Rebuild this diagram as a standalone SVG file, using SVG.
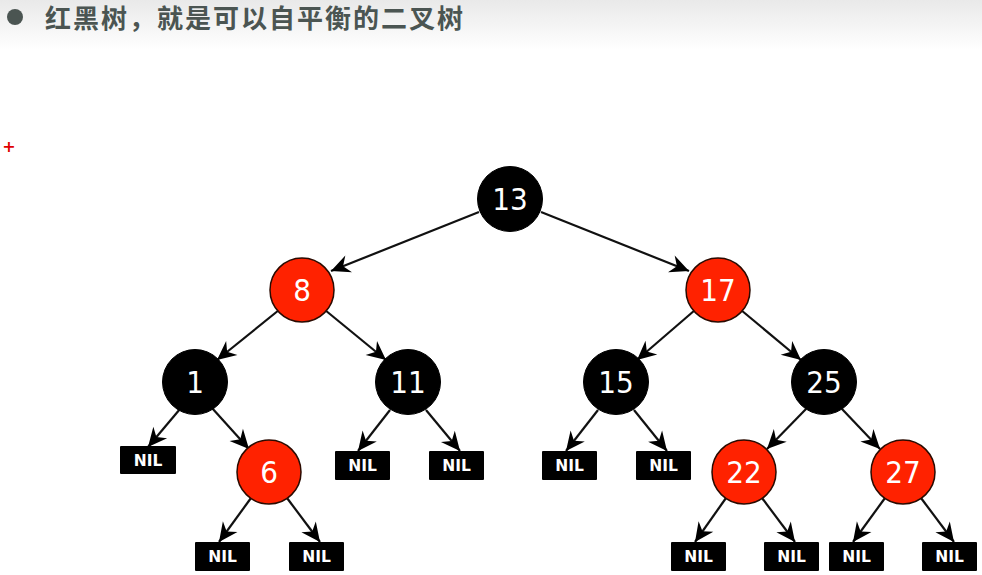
<svg xmlns="http://www.w3.org/2000/svg" width="982" height="575" viewBox="0 0 982 575">
<defs>
<linearGradient id="hdr" x1="0" y1="0" x2="0" y2="1">
<stop offset="0" stop-color="#e9e9e9"/>
<stop offset="1" stop-color="#ffffff"/>
</linearGradient>
<marker id="arr" markerUnits="userSpaceOnUse" markerWidth="22" markerHeight="20" refX="19" refY="9" orient="auto" overflow="visible">
<path d="M19,9 L0,0 L6,9 L0,18 Z" fill="#000"/>
</marker>
<style>
.edge{stroke:#111;stroke-width:2.2;fill:none;marker-end:url(#arr)}
.blk{fill:#000;stroke:#000;stroke-width:1}
.red{fill:#ff2200;stroke:#2a0a00;stroke-width:1.5}
.num{font-family:"DejaVu Sans Condensed","DejaVu Sans",sans-serif;font-size:31px;fill:#fff;text-anchor:middle}
.nilr{fill:#000}
.nil{font-family:"DejaVu Sans","DejaVu Sans Condensed",sans-serif;font-weight:bold;font-size:15.5px;fill:#fff;text-anchor:middle}
</style>
</defs>
<rect x="0" y="0" width="982" height="575" fill="#fff"/>
<rect x="0" y="0" width="982" height="50" fill="url(#hdr)"/>
<g id="header">
<circle cx="15" cy="17" r="8" fill="#4b5552"/>
<text x="45" y="28" font-family="'Noto Sans CJK SC',sans-serif" font-weight="bold" font-size="26" letter-spacing="2" fill="#4b5552">红黑树，就是可以自平衡的二叉树</text>
</g>
<text x="9" y="152" font-family="'DejaVu Sans',sans-serif" font-weight="bold" font-size="16" fill="#e00000" text-anchor="middle">+</text>
<g id="edges">
<line class="edge" x1="479" y1="212" x2="331" y2="271"/>
<line class="edge" x1="541" y1="212" x2="689" y2="271"/>
<line class="edge" x1="279" y1="310" x2="217" y2="360"/>
<line class="edge" x1="325" y1="310" x2="386" y2="360"/>
<line class="edge" x1="695" y1="310" x2="637" y2="360"/>
<line class="edge" x1="741" y1="310" x2="801" y2="360"/>
<line class="edge" x1="180" y1="409" x2="148" y2="447"/>
<line class="edge" x1="212" y1="408" x2="249" y2="449"/>
<line class="edge" x1="390" y1="410" x2="358" y2="451"/>
<line class="edge" x1="426" y1="410" x2="460" y2="451"/>
<line class="edge" x1="598" y1="410" x2="566" y2="451"/>
<line class="edge" x1="634" y1="410" x2="667" y2="451"/>
<line class="edge" x1="806" y1="409" x2="767" y2="449"/>
<line class="edge" x1="842" y1="409" x2="880" y2="449"/>
<line class="edge" x1="251" y1="498" x2="219" y2="542"/>
<line class="edge" x1="287" y1="498" x2="320" y2="542"/>
<line class="edge" x1="726" y1="498" x2="695" y2="542"/>
<line class="edge" x1="762" y1="498" x2="795" y2="542"/>
<line class="edge" x1="885" y1="498" x2="853" y2="542"/>
<line class="edge" x1="921" y1="498" x2="954" y2="542"/>
</g>
<g id="n13"><circle class="blk" cx="510" cy="199" r="32.5"/><text class="num" x="510" y="210">13</text></g>
<g id="n8"><circle class="red" cx="302" cy="290" r="32"/><text class="num" x="302" y="301">8</text></g>
<g id="n17"><circle class="red" cx="718" cy="290" r="32"/><text class="num" x="718" y="301">17</text></g>
<g id="n1"><circle class="blk" cx="195" cy="382" r="32.5"/><text class="num" x="195" y="393">1</text></g>
<g id="n11"><circle class="blk" cx="408" cy="382" r="32.5"/><text class="num" x="408" y="393">11</text></g>
<g id="n15"><circle class="blk" cx="616" cy="382" r="32.5"/><text class="num" x="616" y="393">15</text></g>
<g id="n25"><circle class="blk" cx="824" cy="382" r="32.5"/><text class="num" x="824" y="393">25</text></g>
<g id="n6"><circle class="red" cx="269" cy="472" r="32"/><text class="num" x="269" y="483">6</text></g>
<g id="n22"><circle class="red" cx="744" cy="472" r="32"/><text class="num" x="744" y="483">22</text></g>
<g id="n27"><circle class="red" cx="903" cy="472" r="32"/><text class="num" x="903" y="483">27</text></g>
<g id="nil1"><rect class="nilr" x="120" y="446" width="56" height="28" rx="1"/><text class="nil" x="148" y="466">NIL</text></g>
<g id="nil11a"><rect class="nilr" x="335" y="451" width="55" height="29" rx="1"/><text class="nil" x="362.5" y="471">NIL</text></g>
<g id="nil11b"><rect class="nilr" x="429" y="451" width="55" height="29" rx="1"/><text class="nil" x="456.5" y="471">NIL</text></g>
<g id="nil15a"><rect class="nilr" x="542" y="451" width="55" height="29" rx="1"/><text class="nil" x="569.5" y="471">NIL</text></g>
<g id="nil15b"><rect class="nilr" x="636" y="451" width="55" height="29" rx="1"/><text class="nil" x="663.5" y="471">NIL</text></g>
<g id="nil6a"><rect class="nilr" x="195" y="542" width="55" height="29" rx="1"/><text class="nil" x="222.5" y="562">NIL</text></g>
<g id="nil6b"><rect class="nilr" x="289" y="542" width="55" height="29" rx="1"/><text class="nil" x="316.5" y="562">NIL</text></g>
<g id="nil22a"><rect class="nilr" x="671" y="542" width="55" height="29" rx="1"/><text class="nil" x="698.5" y="562">NIL</text></g>
<g id="nil22b"><rect class="nilr" x="764" y="542" width="55" height="29" rx="1"/><text class="nil" x="791.5" y="562">NIL</text></g>
<g id="nil27a"><rect class="nilr" x="829" y="542" width="55" height="29" rx="1"/><text class="nil" x="856.5" y="562">NIL</text></g>
<g id="nil27b"><rect class="nilr" x="922" y="542" width="55" height="29" rx="1"/><text class="nil" x="949.5" y="562">NIL</text></g>
</svg>
